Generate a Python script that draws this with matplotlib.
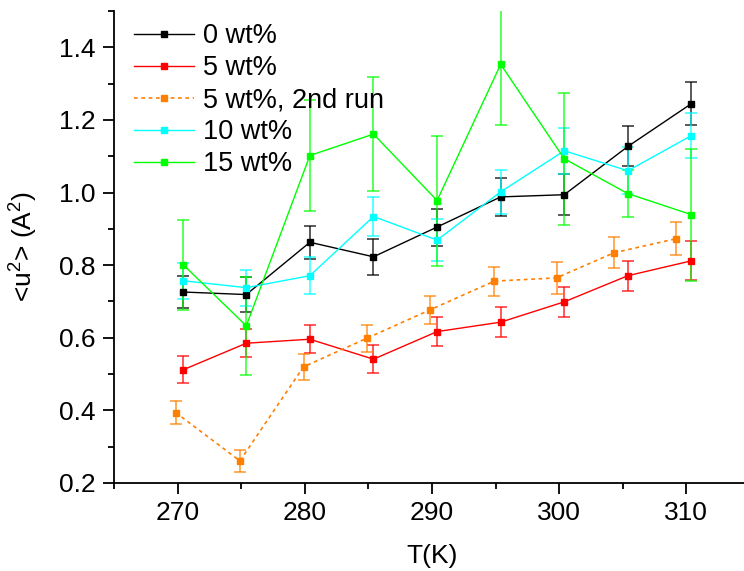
import matplotlib
matplotlib.use("Agg")
import matplotlib.pyplot as plt
from matplotlib.ticker import MultipleLocator

plt.rcParams['font.family'] = ['Liberation Sans', 'DejaVu Sans']
plt.rcParams['mathtext.fontset'] = 'custom'
plt.rcParams['mathtext.rm'] = 'Liberation Sans'
plt.rcParams['mathtext.it'] = 'Liberation Sans'

# Data
T_main = [270.45, 275.4, 280.4, 285.4, 290.4, 295.4, 300.4, 305.4, 310.4]
T_run2 = [269.85, 274.9, 279.9, 284.9, 289.85, 294.9, 299.8, 304.3, 309.2]

u0 = [0.726, 0.719, 0.863, 0.823, 0.905, 0.988, 0.994, 1.127, 1.245]
e0 = [0.043, 0.047, 0.046, 0.049, 0.051, 0.052, 0.056, 0.055, 0.060]

u5 = [0.512, 0.585, 0.596, 0.541, 0.617, 0.643, 0.699, 0.771, 0.812]
e5 = [0.037, 0.038, 0.038, 0.039, 0.040, 0.042, 0.041, 0.041, 0.054]

u5b = [0.394, 0.261, 0.520, 0.599, 0.677, 0.756, 0.765, 0.834, 0.873]
e5b = [0.032, 0.030, 0.036, 0.037, 0.038, 0.040, 0.045, 0.043, 0.045]

u10 = [0.757, 0.738, 0.771, 0.934, 0.869, 1.002, 1.115, 1.060, 1.157]
e10 = [0.049, 0.050, 0.051, 0.055, 0.058, 0.060, 0.063, 0.065, 0.062]

u15 = [0.801, 0.633, 1.102, 1.161, 0.978, 1.353, 1.093, 0.997, 0.939]
e15 = [0.124, 0.135, 0.152, 0.157, 0.179, 0.167, 0.182, 0.065, 0.182]

labels = ['0 wt%', '5 wt%', '5 wt%, 2nd run', '10 wt%', '15 wt%']
colors = ['#000000', '#FF0000', '#FF8000', '#00FFFF', '#00FF00']
linestyles = ['-', '-', (0, (2.2, 2.2)), '-', '-']

fig = plt.figure(figsize=(7.44, 5.71), dpi=100)
ax = fig.add_axes([114/744, 88/571, 636/744, 472/571])

series = [
    (T_main, u0, e0),
    (T_main, u5, e5),
    (T_run2, u5b, e5b),
    (T_main, u10, e10),
    (T_main, u15, e15),
]

for (x, y, e), lab, c, ls in zip(series, labels, colors, linestyles):
    ax.errorbar(x, y, yerr=e, fmt='none', ecolor=c, elinewidth=1.3,
                capsize=4.2, capthick=1.3, alpha=0.7, zorder=2)
    ax.plot(x, y, color=c, linestyle=ls, linewidth=1.0 if ls == '-' else 1.2,
            marker='s', markersize=5, markerfacecolor=c, markeredgecolor=c,
            label=lab, zorder=3)

ax.set_xlim(265, 315)
ax.set_ylim(0.2, 1.5)
ax.xaxis.set_major_locator(MultipleLocator(10))
ax.xaxis.set_minor_locator(MultipleLocator(5))
ax.yaxis.set_minor_locator(MultipleLocator(0.1))
ax.set_yticks([0.2, 0.4, 0.6, 0.8, 1.0, 1.2, 1.4])
ax.set_yticklabels(['0.2', '0.4', '0.6', '0.8', '1.0', '1.2', '1.4'])

for s in ['top', 'right']:
    ax.spines[s].set_visible(False)
for s in ['left', 'bottom']:
    ax.spines[s].set_linewidth(1.3)

ax.tick_params(which='major', direction='out', length=8, width=1.3,
               labelsize=19, pad=5)
ax.tick_params(which='minor', direction='out', length=4, width=1.3)

ax.set_xlabel('T(K)', fontsize=19, labelpad=14)
ax.set_ylabel(r'<u$^2$> (A$^2$)', fontsize=19, labelpad=14)

ax.legend(loc='upper left', bbox_to_anchor=(20/636, 0.974), frameon=False,
          fontsize=19.5, numpoints=1, handlelength=2.2, handletextpad=0.33,
          labelspacing=0.22, borderaxespad=0, borderpad=0)

fig.savefig('out.png', dpi=100)
